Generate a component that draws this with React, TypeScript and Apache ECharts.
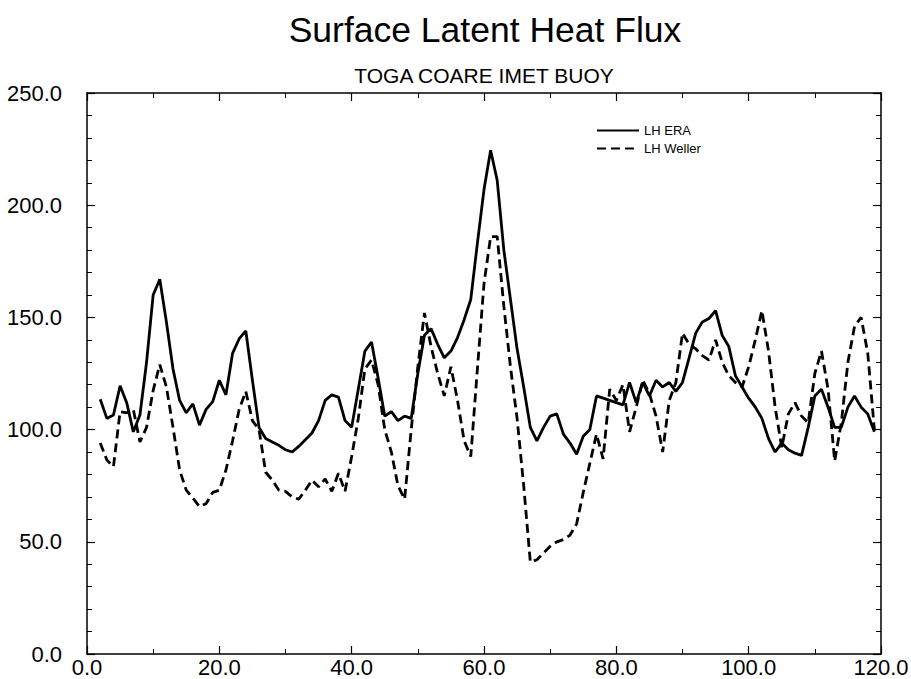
import React, { useEffect, useRef } from "react";
import * as echarts from "echarts";

const titleText = "Surface Latent Heat Flux";
const subtitleText = "TOGA COARE IMET BUOY";
const seriesNames = ["LH ERA", "LH Weller"];

const days = [
  2, 3, 4, 5, 6, 7, 8, 9, 10, 11, 12, 13, 14, 15, 16, 17, 18, 19, 20, 21,
  22, 23, 24, 25, 26, 27, 28, 29, 30, 31, 32, 33, 34, 35, 36, 37, 38, 39, 40, 41,
  42, 43, 44, 45, 46, 47, 48, 49, 50, 51, 52, 53, 54, 55, 56, 57, 58, 59, 60, 61,
  62, 63, 64, 65, 66, 67, 68, 69, 70, 71, 72, 73, 74, 75, 76, 77, 78, 79, 80, 81,
  82, 83, 84, 85, 86, 87, 88, 89, 90, 91, 92, 93, 94, 95, 96, 97, 98, 99, 100, 101,
  102, 103, 104, 105, 106, 107, 108, 109, 110, 111, 112, 113, 114, 115, 116, 117, 118, 119,
];

const lhEra = [
  113.5, 105, 106.5, 119.5, 112, 99, 106.5, 130, 160, 167, 148, 127, 113, 107.5, 111.5, 102, 109, 112.5, 122, 115.5,
  134, 140.5, 144, 122, 101, 96, 94.5, 93, 91, 90, 92.5, 95.5, 98.5, 104, 113, 115.5, 114.5, 104, 101, 118,
  135, 139, 123, 106, 108, 104, 106, 105, 125, 142, 145, 138, 132, 135, 141, 149, 158, 183, 207, 224.5,
  211, 180, 158, 136, 119, 101, 95, 101, 106, 107, 98, 94, 89, 97, 100, 115, 114, 113, 112, 111,
  121, 112, 121, 115, 122, 119, 121, 117, 121, 132, 143, 148, 149.5, 153, 142, 137, 124, 119, 114, 110,
  105, 96, 90, 94, 91, 89.5, 88.5, 101, 115, 118, 110, 101, 101, 110, 115, 110, 107, 99,
];

const lhWeller = [
  94, 86.5, 83.5, 108, 107.5, 109, 94.5, 101, 117.5, 129, 119, 101, 82, 73, 69.5, 65.7, 67, 72, 73, 82,
  95, 109, 117, 104, 100, 81, 77.5, 73, 72.5, 70, 69, 73, 77.5, 74.5, 78, 72.5, 80.5, 72.5, 88, 105,
  127, 131, 120, 100, 90, 75, 69, 100, 128, 152, 137, 125, 115, 128, 113, 95, 88, 127, 165, 186,
  186, 155, 128, 105, 75, 41, 42, 45, 48, 50, 51, 53, 58, 72, 85, 98, 87, 118, 113, 120,
  99, 110, 122, 116, 106, 90, 113, 121, 143, 138, 136, 133, 131, 140, 130, 124, 121, 119, 128, 140,
  153, 135, 110, 92, 107, 112, 106, 103, 125, 135, 118, 86, 103, 130, 146, 150, 134, 100,
];

const xTicks = { min: 0, max: 120, interval: 20 };
const yTicks = { min: 0, max: 250, interval: 50 };

const FONT = "Liberation Sans, Arial, Helvetica, sans-serif";

export default function App() {
  const ref = useRef<HTMLDivElement | null>(null);

  useEffect(() => {
    if (!ref.current) return;
    const chart = echarts.init(ref.current, undefined, { renderer: "svg" });

    const axisLine = { show: true, onZero: false, lineStyle: { color: "#000", width: 1.5 } };
    const axisTick = { show: true, inside: true, length: 8, lineStyle: { color: "#000", width: 1.2 } };
    const minorTickX = { show: true, splitNumber: 2, length: 5, lineStyle: { color: "#000", width: 1 } };
    const minorTickY = { show: true, splitNumber: 5, length: 5, lineStyle: { color: "#000", width: 1 } };
    const fmt = (v: number) => v.toFixed(1);

    const eraData = days.map((d, i) => [d, lhEra[i]]);
    const wellerData = days.map((d, i) => [d, lhWeller[i]]);

    chart.setOption({
      animation: false,
      backgroundColor: "#fff",
      grid: {
        left: 87,
        right: 30,
        top: 93,
        bottom: 25,
        containLabel: false,
        outerBoundsMode: "none",
      },
      graphic: [
        {
          type: "text",
          x: 485,
          y: 30,
          style: {
            text: titleText,
            font: `normal 35.5px ${FONT}`,
            fill: "#000",
            textAlign: "center",
            textVerticalAlign: "middle",
          },
        },
        {
          type: "text",
          x: 484,
          y: 75,
          style: {
            text: subtitleText,
            font: `normal 21px ${FONT}`,
            fill: "#000",
            textAlign: "center",
            textVerticalAlign: "middle",
          },
        },
      ],
      legend: {
        data: seriesNames,
        orient: "vertical",
        left: 596,
        top: 124,
        padding: 0,
        itemWidth: 42,
        itemHeight: 12,
        itemGap: 5,
        itemStyle: { opacity: 0 },
        textStyle: { fontSize: 13, fontFamily: FONT, color: "#000" },
      },
      xAxis: [
        {
          type: "value",
          position: "bottom",
          ...xTicks,
          axisLine,
          axisTick,
          minorTick: minorTickX,
          splitLine: { show: false },
          axisLabel: {
            formatter: fmt,
            fontSize: 22,
            lineHeight: 22,
            fontFamily: FONT,
            color: "#000",
            margin: 2,
            showMinLabel: true,
            showMaxLabel: true,
          },
        },
        {
          type: "value",
          position: "top",
          ...xTicks,
          axisLine,
          axisTick,
          minorTick: minorTickX,
          splitLine: { show: false },
          axisLabel: { show: false },
        },
      ],
      yAxis: [
        {
          type: "value",
          position: "left",
          ...yTicks,
          axisLine,
          axisTick,
          minorTick: minorTickY,
          splitLine: { show: false },
          axisLabel: {
            formatter: fmt,
            fontSize: 22,
            fontFamily: FONT,
            color: "#000",
            margin: 25,
            showMinLabel: true,
            showMaxLabel: true,
          },
        },
        {
          type: "value",
          position: "right",
          ...yTicks,
          axisLine,
          axisTick,
          minorTick: minorTickY,
          splitLine: { show: false },
          axisLabel: { show: false },
        },
      ],
      series: [
        {
          name: seriesNames[0],
          type: "line",
          xAxisIndex: 0,
          yAxisIndex: 0,
          data: eraData,
          symbol: "none",
          showSymbol: false,
          lineStyle: { color: "#000", width: 2.8, type: "solid" },
          itemStyle: { color: "#000" },
        },
        {
          name: seriesNames[1],
          type: "line",
          xAxisIndex: 0,
          yAxisIndex: 0,
          data: wellerData,
          symbol: "none",
          showSymbol: false,
          lineStyle: { color: "#000", width: 2.8, type: [9, 5] },
          itemStyle: { color: "#000" },
        },
      ],
    });

    return () => chart.dispose();
  }, []);

  return (
    <div
      ref={ref}
      style={{ position: "fixed", left: 0, top: 0, width: 911, height: 679, background: "#fff" }}
    />
  );
}
